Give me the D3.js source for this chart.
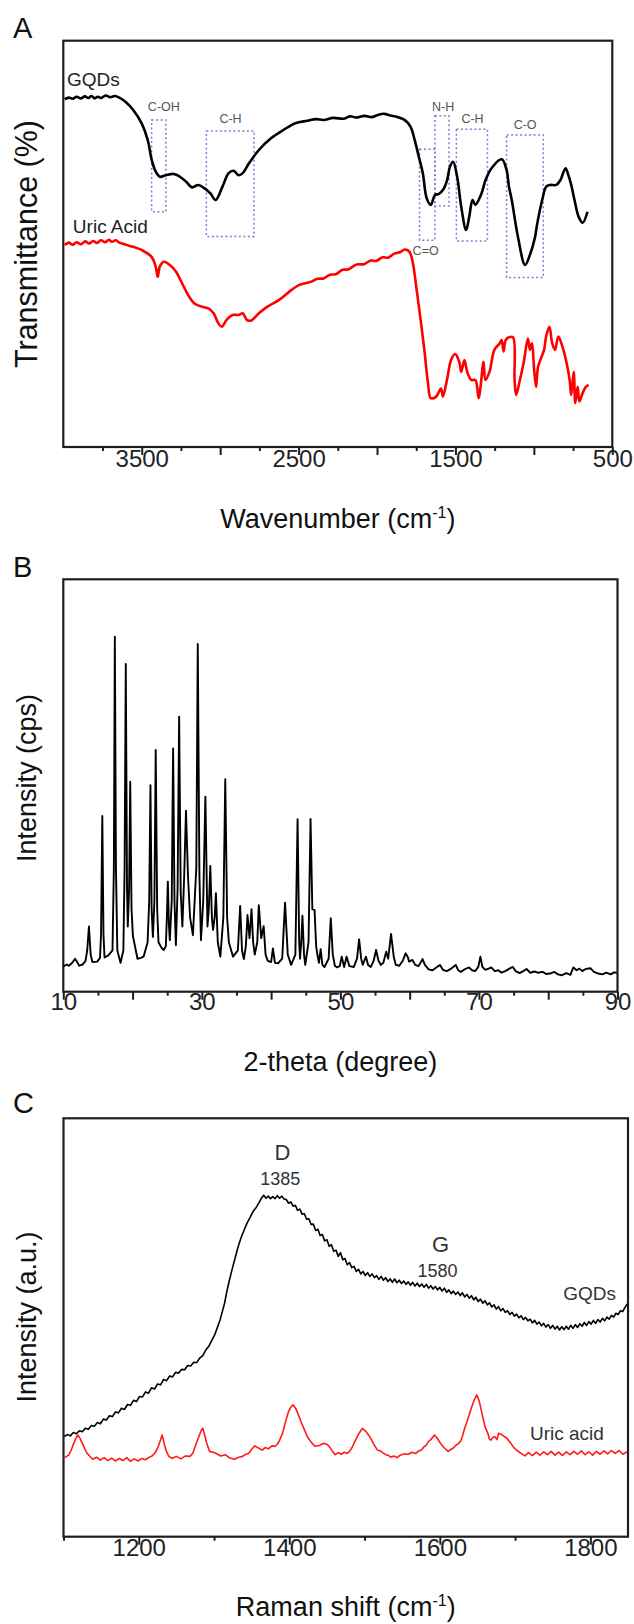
<!DOCTYPE html>
<html><head><meta charset="utf-8">
<script src="https://cdn.jsdelivr.net/npm/d3@7"></script>
<style>
body{margin:0;background:#fff}
svg{display:block}
text{font-family:"Liberation Sans",Arial,Helvetica,sans-serif}
</style>
</head><body>
<svg id="chart" width="634" height="1624"></svg>
<script>
// ---------- Panel A: FTIR (wavenumber, transmittance a.u.) ----------
const ftirGQDs = [[3991,85.6],[3965,86.0],[3940,85.7],[3915,86.2],[3888,85.8],[3862,86.3],[3840,85.9],[3820,86.4],[3800,85.8],[3780,86.2],[3759,85.9],[3730,86.5],[3700,86.1],[3670,86.4],[3643,86.0],[3604,85.0],[3553,82.9],[3501,79.7],[3462,75.6],[3436,70.6],[3411,67.8],[3385,66.5],[3346,66.9],[3295,67.2],[3256,66.5],[3217,65.3],[3179,63.9],[3140,64.5],[3101,63.7],[3062,62.4],[3029,60.8],[2985,64.1],[2946,67.4],[2915,68.0],[2882,66.9],[2856,67.4],[2817,69.8],[2753,73.1],[2676,76.0],[2598,78.0],[2521,79.7],[2443,80.3],[2390,80.7],[2340,80.5],[2280,81.0],[2211,80.8],[2170,81.4],[2134,81.1],[2080,81.5],[2031,81.2],[1990,81.8],[1953,82.0],[1915,81.6],[1876,81.3],[1824,80.5],[1786,78.8],[1760,75.6],[1734,71.5],[1708,67.4],[1683,61.2],[1657,59.6],[1631,62.0],[1605,62.3],[1579,63.3],[1553,65.7],[1535,69.0],[1515,70.2],[1489,66.5],[1463,59.1],[1432,53.4],[1412,56.7],[1391,60.8],[1373,59.6],[1334,62.4],[1308,65.7],[1270,68.6],[1205,70.8],[1174,68.2],[1159,64.1],[1141,60.8],[1102,51.8],[1056,44.8],[1025,47.3],[994,51.4],[978,55.1],[947,60.8],[921,64.1],[896,64.5],[857,64.5],[831,65.7],[798,68.6],[780,66.9],[762,64.5],[741,60.8],[715,56.7],[689,55.2],[658,57.9]];
const ftirUric = [[3991,49.7],[3965,50.3],[3940,49.8],[3915,50.4],[3888,49.9],[3860,50.6],[3835,50.1],[3810,50.7],[3785,50.2],[3760,50.9],[3733,50.4],[3710,51.0],[3690,50.5],[3665,50.9],[3643,50.3],[3610,49.9],[3578,49.5],[3540,49.1],[3501,48.5],[3437,46.8],[3411,44.4],[3398,41.9],[3385,44.4],[3359,45.6],[3321,44.8],[3282,43.2],[3243,40.3],[3204,37.4],[3166,35.4],[3114,34.5],[3075,34.1],[3042,32.9],[3011,30.4],[2990,29.6],[2959,31.3],[2921,32.5],[2882,32.5],[2856,32.9],[2830,31.3],[2804,31.1],[2753,32.9],[2701,34.5],[2624,36.2],[2547,38.6],[2495,39.9],[2418,40.7],[2380,41.4],[2340,41.5],[2300,42.4],[2263,42.5],[2220,43.6],[2186,43.7],[2130,44.9],[2082,45.0],[2040,45.9],[2005,45.8],[1965,46.7],[1928,46.6],[1890,47.6],[1850,48.0],[1824,48.6],[1794,48.1],[1773,45.6],[1747,38.6],[1722,31.3],[1696,23.1],[1675,15.7],[1657,12.0],[1623,12.4],[1592,14.4],[1580,12.4],[1554,16.5],[1528,21.4],[1502,22.9],[1476,21.0],[1463,18.5],[1443,21.4],[1425,18.5],[1399,16.5],[1373,16.5],[1352,12.0],[1340,14.8],[1321,21.0],[1309,16.5],[1283,18.5],[1252,23.9],[1218,25.5],[1206,26.3],[1193,23.5],[1180,26.3],[1159,27.0],[1133,27.0],[1123,16.5],[1113,12.8],[1089,16.5],[1064,21.0],[1038,26.7],[1025,23.9],[1012,25.5],[999,19.4],[986,14.8],[973,19.8],[935,23.9],[922,27.2],[901,29.6],[883,25.5],[865,23.9],[844,27.2],[818,24.7],[793,21.0],[772,16.5],[762,12.8],[746,18.5],[736,10.8],[721,14.8],[710,11.2],[690,13.2],[669,14.8],[651,15.3]];
const ftirTickMajor = [3500,3000,2500,2000,1500,1000,500];
const ftirTickMinor = [3750,3250,2750,2250,1750,1250,750];
const ftirTickLabels = [3500,2500,1500,500];
const ftirBoxes = [[3437,3346,80.5,57.9],[3088,2784,77.8,51.8],[1729,1631,73.3,50.9],[1631,1541,81.5,59.3],[1494,1296,78.2,50.7],[1174,940,76.8,41.7]];
const ftirBoxText = ["C-OH","C-H","C=O","N-H","C-H","C-O"];
const ftirBoxTextAt = [[3359,82.7,"middle"],[2934,79.7,"middle"],[1773,47.3,"start"],[1579,82.8,"middle"],[1391,79.7,"middle"],[1056,78.2,"middle"]];

// ---------- Panel B: XRD (2-theta, intensity a.u.) ----------
const xrd = [[10.0,6.1],[10.5,6.6],[10.8,6.3],[11.3,7.0],[11.7,8.0],[12.0,7.2],[12.3,6.3],[12.8,6.6],[13.2,7.4],[13.45,10],[13.7,15.8],[13.95,9],[14.2,7.2],[14.9,7.3],[15.3,8.2],[15.45,14],[15.63,42.6],[15.8,14],[15.95,8.3],[16.5,8.8],[17.1,10.0],[17.3,30],[17.44,86.1],[17.6,30],[17.8,10],[18.26,7.0],[18.67,10],[18.85,30],[19.02,79.5],[19.2,25],[19.31,15.8],[19.5,25],[19.66,50.9],[19.85,20],[20.05,13.5],[20.71,8.0],[21.2,8.2],[21.59,8.5],[22.17,12],[22.4,22],[22.58,50.1],[22.75,20],[22.93,13.3],[23.15,22],[23.34,58.6],[23.55,20],[23.74,12],[24.2,10.6],[24.50,10.1],[24.80,11],[24.95,18],[25.09,26.7],[25.25,16],[25.38,12.5],[25.65,22],[25.85,59.0],[26.05,22],[26.25,11.3],[26.5,25],[26.72,66.7],[26.95,24],[27.19,15.8],[27.45,28],[27.71,43.9],[28.0,28],[28.30,18],[28.71,13.7],[29.2,30],[29.41,84.3],[29.65,28],[29.87,12.5],[30.2,22],[30.51,47.3],[30.81,15.8],[31.0,20],[31.22,30.5],[31.45,18],[31.62,15.0],[31.85,18],[32.03,23.9],[32.3,12],[32.67,8.5],[33.1,18],[33.38,51.5],[33.65,18],[33.9,12],[34.5,8.5],[35.2,10],[35.53,20.8],[35.8,10],[36.06,7.9],[36.35,11],[36.59,18.6],[36.88,13],[37.17,20.0],[37.4,12],[37.64,9],[38.0,12],[38.22,21.0],[38.57,13],[38.92,15.9],[39.2,9],[39.5,7.5],[40.0,7.2],[40.26,10.5],[40.55,7],[41.0,6.9],[41.6,8],[42.01,21.6],[42.4,9],[42.89,6.5],[43.5,9],[43.82,41.8],[44.05,12],[44.17,8],[44.35,12],[44.52,18.4],[44.75,9],[44.93,6.5],[45.4,12],[45.69,41.9],[45.95,20],[46.27,19.8],[46.5,11],[46.68,9],[46.9,7],[47.15,10.3],[47.4,6.5],[47.7,6],[48.3,8],[48.61,17.8],[48.9,9],[49.2,6.3],[49.49,5.9],[49.9,6.2],[50.19,8.5],[50.54,6.0],[50.89,8.5],[51.3,6.2],[51.94,6],[52.4,8],[52.70,12.7],[53.0,8],[53.22,6.5],[53.69,8.5],[54.0,6.5],[54.39,6.0],[54.8,7.5],[55.15,10.1],[55.5,7.5],[55.85,6.5],[56.2,7],[56.61,9.7],[56.9,8],[57.31,14.0],[57.7,8.5],[58.0,6.5],[58.5,6.3],[59.0,7.5],[59.41,9.3],[59.7,8.5],[59.93,7.3],[60.40,7.7],[60.8,6.5],[61.28,6.2],[61.86,7.9],[62.2,6.5],[62.74,5.4],[63.3,5.2],[63.8,5.8],[64.37,6.5],[64.8,5.3],[65.36,5.0],[66.0,5.6],[66.65,6.5],[67.0,5.2],[67.40,4.8],[68.0,5.5],[68.57,5.9],[69.0,5.2],[69.45,5.0],[69.9,6.0],[70.21,8.5],[70.5,6.0],[70.91,5.3],[71.4,5.6],[71.78,5.9],[72.3,5.0],[72.8,5.2],[73.24,4.6],[73.8,5.0],[74.4,5.6],[74.88,6.0],[75.3,5.0],[75.87,4.5],[76.4,5.0],[76.87,5.5],[77.4,4.6],[78.0,4.9],[78.50,4.6],[79.2,4.8],[79.7,4.3],[80.25,4.4],[80.9,4.8],[81.4,4.2],[82.00,4.0],[82.6,4.5],[83.2,4.1],[83.63,5.9],[84.1,5.2],[84.5,5.6],[84.92,5.0],[85.4,5.5],[86.08,5.7],[86.6,4.8],[87.2,4.4],[87.83,4.2],[88.4,4.6],[89.0,4.2],[89.5,4.7],[89.9,4.6]];
const xrdTickMajor = [10,20,30,40,50,60,70,80,90];
const xrdTickMinor = [15,25,35,45,55,65,75,85];
const xrdTickLabels = [10,30,50,70,90];

// ---------- Panel C: Raman (shift, intensity a.u.) ----------
const ramanGQDs = [[1101,23.9],[1105,24.4],[1109,24.1],[1113,24.9],[1117,24.6],[1121,25.3],[1125,25.1],[1129,25.9],[1133,25.7],[1137,26.6],[1141,26.4],[1145,27.3],[1149,27.0],[1153,28.1],[1157,27.9],[1161,28.9],[1165,28.7],[1169,29.8],[1173,29.6],[1177,30.7],[1181,30.4],[1185,31.6],[1189,31.4],[1193,32.6],[1197,32.3],[1201,33.5],[1205,33.4],[1209,34.6],[1213,34.3],[1217,35.6],[1221,35.3],[1225,36.5],[1229,36.3],[1233,37.6],[1237,37.3],[1241,38.4],[1245,38.2],[1249,39.3],[1253,39.1],[1257,40.0],[1261,39.9],[1265,40.9],[1269,40.8],[1273,41.7],[1277,41.6],[1281,42.7],[1285,43.3],[1289,44.6],[1293,45.5],[1297,46.9],[1301,48.3],[1305,50.3],[1308,51.8],[1311,53.8],[1314,55.8],[1317,58.6],[1320,61.0],[1324,63.9],[1328,66.6],[1332,69.3],[1336,71.5],[1340,73.3],[1344,75.0],[1348,76.3],[1352,77.8],[1356,78.7],[1360,79.9],[1363,80.9],[1366,81.6],[1369,80.9],[1372,81.4],[1375,80.8],[1378,81.3],[1381,80.8],[1384,81.5],[1387,80.9],[1390,81.4],[1393,80.7],[1396,80.6],[1399,79.7],[1402,80.0],[1405,79.0],[1408,79.2],[1411,78.0],[1414,78.3],[1417,77.1],[1420,77.2],[1423,75.9],[1426,76.0],[1429,74.6],[1432,74.7],[1435,73.2],[1438,73.5],[1441,72.0],[1444,72.2],[1447,70.7],[1450,71.0],[1453,69.4],[1456,69.8],[1459,68.2],[1462,68.5],[1465,67.0],[1468,67.9],[1471,66.2],[1474,66.5],[1477,65.0],[1480,65.5],[1483,64.3],[1486,64.6],[1489,63.4],[1492,63.9],[1495,62.8],[1498,63.4],[1501,62.4],[1504,63.1],[1507,62.2],[1510,62.8],[1513,61.9],[1516,62.4],[1519,61.5],[1522,62.2],[1525,61.3],[1528,61.9],[1531,61.0],[1534,61.6],[1537,60.8],[1540,61.6],[1543,60.7],[1546,61.3],[1549,60.5],[1552,61.1],[1555,60.3],[1558,60.9],[1561,60.1],[1564,60.8],[1567,59.9],[1570,60.6],[1573,59.8],[1576,60.4],[1579,59.6],[1582,60.3],[1585,59.4],[1588,60.0],[1591,59.2],[1594,59.8],[1597,59.0],[1600,59.6],[1603,58.7],[1606,59.4],[1609,58.4],[1612,59.0],[1615,58.1],[1618,58.7],[1621,57.9],[1624,58.5],[1627,57.6],[1630,58.3],[1633,57.3],[1636,57.9],[1639,57.0],[1642,57.6],[1645,56.6],[1648,57.2],[1651,56.2],[1654,56.8],[1657,55.8],[1660,56.4],[1663,55.4],[1666,55.9],[1669,54.9],[1672,55.4],[1675,54.4],[1678,55.0],[1681,54.0],[1684,54.5],[1687,53.6],[1690,54.0],[1693,53.1],[1696,53.6],[1699,52.7],[1702,53.2],[1705,52.3],[1708,52.8],[1711,51.9],[1714,52.4],[1717,51.6],[1720,52.0],[1723,51.1],[1726,51.7],[1729,50.8],[1732,51.3],[1735,50.4],[1738,51.0],[1741,50.1],[1744,50.7],[1747,49.8],[1750,50.5],[1753,49.6],[1756,50.3],[1759,49.4],[1762,50.2],[1765,49.5],[1768,50.3],[1771,49.6],[1774,50.5],[1777,49.8],[1780,50.7],[1783,50.0],[1786,50.9],[1789,50.3],[1792,51.2],[1795,50.5],[1798,51.4],[1801,50.8],[1804,51.7],[1807,51.0],[1810,51.9],[1813,51.3],[1816,52.2],[1819,51.6],[1822,52.5],[1825,52.0],[1828,52.9],[1831,52.5],[1834,53.4],[1837,53.1],[1840,54.0],[1843,53.8],[1846,54.8],[1849,55.6]];
const ramanUric = [[1100,18.7],[1104,19.2],[1107,19.5],[1110,20.6],[1113,22.0],[1116,23.4],[1119,24.3],[1122,23.5],[1125,22.3],[1128,21.1],[1131,20.0],[1134,19.4],[1139,18.5],[1144,19.0],[1149,18.3],[1154,18.9],[1159,18.2],[1164,18.8],[1169,18.1],[1174,18.7],[1179,18.2],[1184,18.9],[1189,18.0],[1194,18.6],[1199,18.1],[1204,18.7],[1209,18.4],[1214,19.0],[1217,19.2],[1222,20.1],[1226,21.6],[1229,23.2],[1231,24.3],[1233,22.8],[1236,20.7],[1240,19.2],[1244,18.7],[1250,19.2],[1256,18.6],[1262,19.3],[1268,19.2],[1272,20.0],[1275,21.6],[1280,24.0],[1283,25.4],[1285,25.9],[1288,24.0],[1290,22.5],[1294,20.4],[1299,20.2],[1303,19.9],[1309,19.3],[1315,19.6],[1321,18.8],[1327,18.5],[1333,19.0],[1338,19.2],[1342,19.7],[1346,19.9],[1350,20.9],[1354,21.7],[1359,21.2],[1364,20.7],[1368,21.3],[1372,21.0],[1377,21.7],[1381,21.6],[1384,22.1],[1387,23.0],[1391,24.7],[1395,27.5],[1399,29.9],[1402,31.0],[1405,31.5],[1409,30.5],[1413,28.7],[1416,27.3],[1419,26.0],[1424,23.9],[1429,22.6],[1434,21.6],[1440,21.8],[1445,22.3],[1450,22.1],[1453,21.6],[1457,20.5],[1461,19.6],[1465,20.1],[1469,19.7],[1473,20.2],[1477,19.9],[1480,20.4],[1483,21.2],[1488,23.1],[1493,24.8],[1497,25.9],[1502,25.1],[1507,23.9],[1512,22.2],[1517,20.7],[1521,20.5],[1524,20.1],[1528,19.6],[1531,19.5],[1535,19.0],[1539,19.3],[1543,18.9],[1547,19.4],[1552,19.8],[1558,19.7],[1563,20.2],[1568,19.9],[1572,20.5],[1576,20.8],[1579,21.5],[1582,21.9],[1585,22.8],[1588,23.2],[1593,24.3],[1597,23.4],[1601,22.3],[1606,21.2],[1611,20.4],[1615,20.9],[1618,21.2],[1621,21.8],[1625,22.3],[1628,23.0],[1630,24.0],[1633,25.9],[1637,28.0],[1641,30.3],[1645,32.4],[1649,33.9],[1652,32.6],[1654,31.1],[1657,28.7],[1660,26.3],[1664,24.6],[1666,23.3],[1668,23.1],[1671,23.8],[1673,23.9],[1676,23.2],[1678,24.7],[1682,24.4],[1686,23.9],[1689,23.6],[1692,22.8],[1695,22.2],[1697,21.6],[1700,21.0],[1702,20.7],[1705,20.3],[1708,19.9],[1713,19.3],[1718,20.1],[1723,19.4],[1728,20.2],[1733,19.5],[1738,20.3],[1743,19.6],[1748,20.4],[1753,19.5],[1758,20.2],[1763,19.4],[1768,20.3],[1773,19.6],[1778,20.4],[1783,19.7],[1788,20.5],[1793,19.6],[1798,20.3],[1803,19.5],[1808,20.4],[1813,19.7],[1818,20.5],[1823,19.8],[1828,20.6],[1833,19.9],[1838,20.6],[1843,19.7],[1849,20.3]];
const ramanTickMajor = [1200,1400,1600,1800];
const ramanTickMinor = [1100,1300,1500,1700];
const ramanTickLabels = [1200,1400,1600,1800];

// ---------- drawing ----------
const svg = d3.select("#chart");
const FRAME = "#1e1e1e";

function panel(o){
  const g = svg.append("g");
  const x = d3.scaleLinear().domain(o.xDomain).range([o.left, o.right]);
  const y = d3.scaleLinear().domain([0, 100]).range([o.bottom, o.top]);

  g.append("text").attr("x", 13).attr("y", o.letterY).attr("font-size", 29).attr("fill", "#111").text(o.letter);

  const minorAx = g.append("g").attr("transform", `translate(0,${o.bottom})`)
    .call(d3.axisBottom(x).tickValues(o.minor).tickSize(o.minorLen).tickFormat(""));
  minorAx.select(".domain").remove();
  minorAx.selectAll("line").attr("stroke", FRAME).attr("stroke-width", 2);
  const majorAx = g.append("g").attr("transform", `translate(0,${o.bottom})`)
    .call(d3.axisBottom(x).tickValues(o.major).tickSize(o.majorLen)
      .tickFormat(d => o.labels.includes(d) ? String(d) : ""));
  majorAx.select(".domain").remove();
  majorAx.selectAll("line").attr("stroke", FRAME).attr("stroke-width", 2);
  majorAx.selectAll("text").attr("y", o.labelDy).attr("dy", null)
    .attr("font-size", 24).attr("fill", "#222")
    .attr("font-family", '"Liberation Sans",Arial,sans-serif');

  g.append("rect").attr("x", o.left).attr("y", o.top)
    .attr("width", o.right - o.left).attr("height", o.bottom - o.top)
    .attr("fill", "none").attr("stroke", FRAME).attr("stroke-width", 2.2);

  const xt = g.append("text").attr("x", (o.left + o.right) / 2).attr("y", o.xTitleY)
    .attr("text-anchor", "middle").attr("font-size", 27).attr("fill", "#111");
  xt.append("tspan").text(o.xTitle[0]);
  if (o.xTitle.length > 1) {
    xt.append("tspan").attr("dy", -10).attr("font-size", 16).text(o.xTitle[1]);
    xt.append("tspan").attr("dy", 10).text(o.xTitle[2]);
  }
  g.append("text").attr("transform", `translate(${o.yTitleX},${o.yTitleCY}) rotate(-90)`)
    .attr("text-anchor", "middle").attr("font-size", o.yTitleSize).attr("fill", "#111").text(o.yTitle);

  return {g, x, y};
}

// Panel A
const A = panel({letter:"A", letterY:38, xDomain:[4000,500], left:63.3, right:612.3, top:40.7, bottom:447,
  minor:ftirTickMinor, major:ftirTickMajor, labels:ftirTickLabels, minorLen:4, majorLen:8, labelDy:20,
  xTitle:["Wavenumber (cm","-1",")"], xTitleY:528, yTitle:"Transmittance (%)", yTitleX:37, yTitleCY:244, yTitleSize:30.5});
A.g.selectAll("rect.box").data(ftirBoxes).join("rect").attr("class","box")
  .attr("x", d => A.x(d[0])).attr("y", d => A.y(d[2]))
  .attr("width", d => A.x(d[1]) - A.x(d[0])).attr("height", d => A.y(d[3]) - A.y(d[2]))
  .attr("fill", "none").attr("stroke", "#7d7fd8").attr("stroke-width", 1.5).attr("stroke-dasharray", "2,2.5");
A.g.selectAll("text.blab").data(ftirBoxTextAt).join("text").attr("class","blab")
  .attr("x", d => A.x(d[0])).attr("y", d => A.y(d[1])).attr("text-anchor", d => d[2])
  .attr("font-size", 12.5).attr("fill", "#555").text((d, i) => ftirBoxText[i]);
const lineA = d3.line().x(d => A.x(d[0])).y(d => A.y(d[1])).curve(d3.curveCatmullRom.alpha(0.5));
A.g.append("path").datum(ftirGQDs).attr("d", lineA).attr("fill","none").attr("stroke","#000").attr("stroke-width",2.6).attr("stroke-linejoin","round");
A.g.append("path").datum(ftirUric).attr("d", lineA).attr("fill","none").attr("stroke","#ff0000").attr("stroke-width",2.6).attr("stroke-linejoin","round");
A.g.append("text").attr("x", A.x(3976)).attr("y", A.y(88.9)).attr("font-size", 19).attr("fill","#222").text("GQDs");
A.g.append("text").attr("x", A.x(3939)).attr("y", A.y(52.6)).attr("font-size", 19).attr("fill","#222").text("Uric Acid");

// Panel B
const B = panel({letter:"B", letterY:577, xDomain:[10,90], left:63.3, right:617.5, top:579.3, bottom:991.7,
  minor:xrdTickMinor, major:xrdTickMajor, labels:xrdTickLabels, minorLen:4, majorLen:8, labelDy:18,
  xTitle:["2-theta (degree)"], xTitleY:1071, yTitle:"Intensity (cps)", yTitleX:36, yTitleCY:778, yTitleSize:27});
const lineB = d3.line().x(d => B.x(d[0])).y(d => B.y(d[1]));
B.g.append("path").datum(xrd).attr("d", lineB).attr("fill","none").attr("stroke","#000").attr("stroke-width",1.9).attr("stroke-linejoin","round");

// Panel C
const C = panel({letter:"C", letterY:1113, xDomain:[1100,1850], left:63.5, right:628, top:1118.3, bottom:1536.7,
  minor:ramanTickMinor, major:ramanTickMajor, labels:ramanTickLabels, minorLen:4, majorLen:8, labelDy:19,
  xTitle:["Raman shift (cm","-1",")"], xTitleY:1616, yTitle:"Intensity (a.u.)", yTitleX:36, yTitleCY:1317, yTitleSize:27});
const lineC = d3.line().x(d => C.x(d[0])).y(d => C.y(d[1]));
C.g.append("path").datum(ramanGQDs).attr("d", lineC).attr("fill","none").attr("stroke","#000").attr("stroke-width",1.6).attr("stroke-linejoin","round");
C.g.append("path").datum(ramanUric).attr("d", lineC).attr("fill","none").attr("stroke","#ff1a1a").attr("stroke-width",1.6).attr("stroke-linejoin","round");
const cLabels = [["D",1391,90.0,22],["1385",1388,84.1,18],["G",1601,68.1,22],["1580",1597,62.1,18]];
C.g.selectAll("text.pk").data(cLabels).join("text").attr("class","pk")
  .attr("x", d => C.x(d[1])).attr("y", d => C.y(d[2])).attr("text-anchor","middle")
  .attr("font-size", d => d[3]).attr("fill","#333").text(d => d[0]);
C.g.append("text").attr("x", C.x(1834)).attr("y", C.y(56.6)).attr("text-anchor","end").attr("font-size",19).attr("fill","#333").text("GQDs");
C.g.append("text").attr("x", C.x(1818)).attr("y", C.y(23.1)).attr("text-anchor","end").attr("font-size",19).attr("fill","#333").text("Uric acid");
</script>
</body></html>
